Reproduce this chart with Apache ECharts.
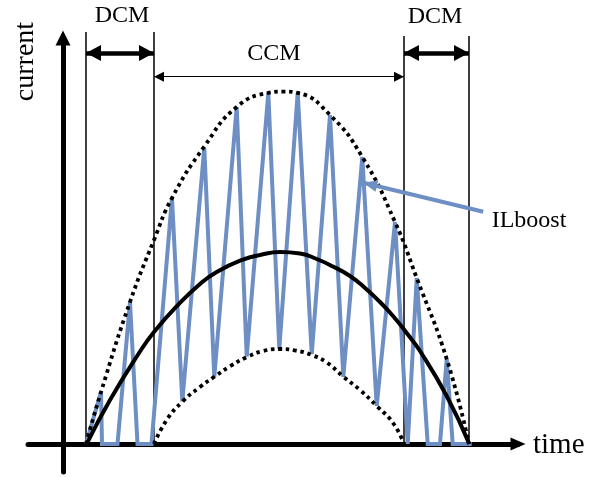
<!DOCTYPE html>
<html><head><meta charset="utf-8">
<script src="https://cdn.jsdelivr.net/npm/echarts@6/dist/echarts.min.js"></script>
<style>html,body{margin:0;padding:0;background:#fff}#c{width:599px;height:477px}</style>
</head><body><div id="c"></div>
<script>
// Inductor current ILboost (triangular ripple), time / current in arbitrary units
const ilTime = [0.657,1.086,1.114,1.557,1.914,2.129,2.529,3.114,3.409,4.037,4.323,4.963,5.249,5.866,6.18,6.706,7.106,7.629,8.009,8.551,8.963,9.486,9.849,10.106,10.42,10.771,10.963,11.134,11.677];
const ilCurrent = [0,1.486,0,0,4.057,0,0,7.029,1.22,8.457,1.92,9.629,2.5,10.03,2.72,10.03,2.57,9.4,1.92,8.2,1.086,6.343,0,4.743,0,0,2.429,0,0];
// Upper envelope (peak current)
const peakTime = [0.657,1.086,1.914,2.6,3.114,4.037,4.963,5.866,6.286,6.706,7.629,8.551,9.486,10.106,10.963,11.6];
const peakCurrent = [0,1.486,4.057,5.829,7.029,8.5,9.629,10.03,10.07,10.03,9.4,8.2,6.343,4.743,2.429,0];
// Lower envelope (valley current, CCM only)
const valleyTime = [2.6,2.963,3.409,3.914,4.323,4.771,5.249,5.723,6.186,6.65,7.106,7.534,8.009,8.486,8.963,9.437,9.743];
const valleyCurrent = [0,0.686,1.209,1.63,1.92,2.22,2.48,2.657,2.714,2.67,2.543,2.33,1.923,1.543,1.086,0.591,0];
// Average current
const avgTime = [0.677,1.343,2.2,2.6,3.257,3.914,4.391,5.143,5.629,6.2,6.771,7.249,7.714,8.2,8.629,9.057,9.429,9.82,10.2,10.963,11.609];
const avgCurrent = [0,1.257,2.643,3.2,3.943,4.571,4.914,5.271,5.4,5.486,5.443,5.286,5.071,4.8,4.457,4.057,3.657,3.171,2.657,1.371,0];
// Mode boundaries
const modeEdges = [0.657, 2.6, 9.743, 11.6];
const edgeTop = [11.77, 11.77, 11.66, 11.66];
const dcmArrowLevel = 11.17;
const ccmArrowLevel = 10.494;
// ILboost pointer (tail, tip)
const pointerTail = [12.006, 6.637];
const pointerTip = [8.58, 7.466];
const modeNames = ['DCM', 'CCM', 'DCM'];
const axisNames = ['time', 'current'];
const seriesName = 'ILboost';

const zip = (a, b) => a.map((v, i) => [v, b[i]]);
const FONT = "'Liberation Serif', 'Times New Roman', serif";
const BLUE = '#6d8fc4';

const series = [];
series.push({
  name: seriesName, type: 'line', data: zip(ilTime, ilCurrent), symbol: 'none',
  lineStyle: { color: BLUE, width: 4, join: 'miter', miterLimit: 2.5 }, z: 3
});
series.push({
  type: 'line', data: zip(peakTime, peakCurrent), symbol: 'none', smooth: 0.5,
  lineStyle: { color: '#000', width: 3.8, type: [3.6, 3.8] }, z: 4
});
series.push({
  type: 'line', data: zip(valleyTime, valleyCurrent), symbol: 'none', smooth: 0.5,
  lineStyle: { color: '#000', width: 3.8, type: [3.6, 3.8] }, z: 4
});
series.push({
  type: 'line', data: zip(avgTime, avgCurrent), symbol: 'none', smooth: 0.5,
  lineStyle: { color: '#000', width: 4 }, z: 5
});
modeEdges.forEach((t, k) => {
  series.push({
    type: 'line', data: [[t, 0], [t, edgeTop[k]]], symbol: 'none', clip: false,
    lineStyle: { color: '#000', width: 1.5 }, z: 2
  });
});
const mlBase = { silent: true, label: { show: false }, emphasis: { disabled: true }, animation: false };
series.push({
  type: 'line', data: [],
  markLine: Object.assign({}, mlBase, {
    symbol: ['triangle', 'triangle'], symbolSize: [16, 15], symbolOffset: [[0, 7.5], [0, 7.5]],
    lineStyle: { color: '#000', width: 4.5, type: 'solid' },
    data: [
      [{ coord: [modeEdges[0], dcmArrowLevel] }, { coord: [modeEdges[1], dcmArrowLevel] }],
      [{ coord: [modeEdges[2], dcmArrowLevel] }, { coord: [modeEdges[3], dcmArrowLevel] }]
    ]
  })
});
series.push({
  type: 'line', data: [],
  markLine: Object.assign({}, mlBase, {
    symbol: ['triangle', 'triangle'], symbolSize: [10, 10], symbolOffset: [[0, 5], [0, 5]],
    lineStyle: { color: '#000', width: 1.2, type: 'solid' },
    data: [[{ coord: [modeEdges[1], ccmArrowLevel] }, { coord: [modeEdges[2], ccmArrowLevel] }]]
  })
});
series.push({
  type: 'line', data: [],
  markLine: Object.assign({}, mlBase, {
    symbol: ['none', 'triangle'], symbolSize: [12, 14], symbolOffset: [[0, 0], [0, 7]],
    lineStyle: { color: BLUE, width: 4, type: 'solid' },
    data: [[{ coord: pointerTail }, { coord: pointerTip }]]
  })
});

const txt = (text, x, y, size, extra) => Object.assign({
  type: 'text', x, y, silent: true,
  style: { text, font: size + 'px ' + FONT, fill: '#000', align: 'center', verticalAlign: 'middle' }
}, extra || {});

const chart = echarts.init(document.getElementById('c'), null, { renderer: 'canvas' });
chart.setOption({
  animation: false,
  backgroundColor: '#fff',
  grid: { left: 28, right: 81, top: 38, bottom: 5, containLabel: false },
  xAxis: {
    type: 'value', min: -1, max: 13,
    axisLine: { onZero: true, symbol: ['none', 'triangle'], symbolSize: [13, 15],
      lineStyle: { color: '#000', width: 5 } },
    axisTick: { show: false }, axisLabel: { show: false }, splitLine: { show: false }
  },
  yAxis: {
    type: 'value', min: -0.8, max: 11.6,
    axisLine: { onZero: true, symbol: ['none', 'triangle'], symbolSize: [15, 15],
      lineStyle: { color: '#000', width: 5 } },
    axisTick: { show: false }, axisLabel: { show: false }, splitLine: { show: false }
  },
  graphic: [
    txt(modeNames[0], 122, 15.5, 24),
    txt(modeNames[1], 274, 54, 24),
    txt(modeNames[2], 435, 17, 24),
    txt(seriesName, 529, 221, 24),
    Object.assign(txt(axisNames[0], 533, 445, 29), { style: { text: axisNames[0], font: '29px ' + FONT, fill: '#000', align: 'left', verticalAlign: 'middle' } }),
    txt(axisNames[1], 26, 61.5, 28, { rotation: Math.PI / 2 })
  ],
  series
});
</script>
</body></html>
